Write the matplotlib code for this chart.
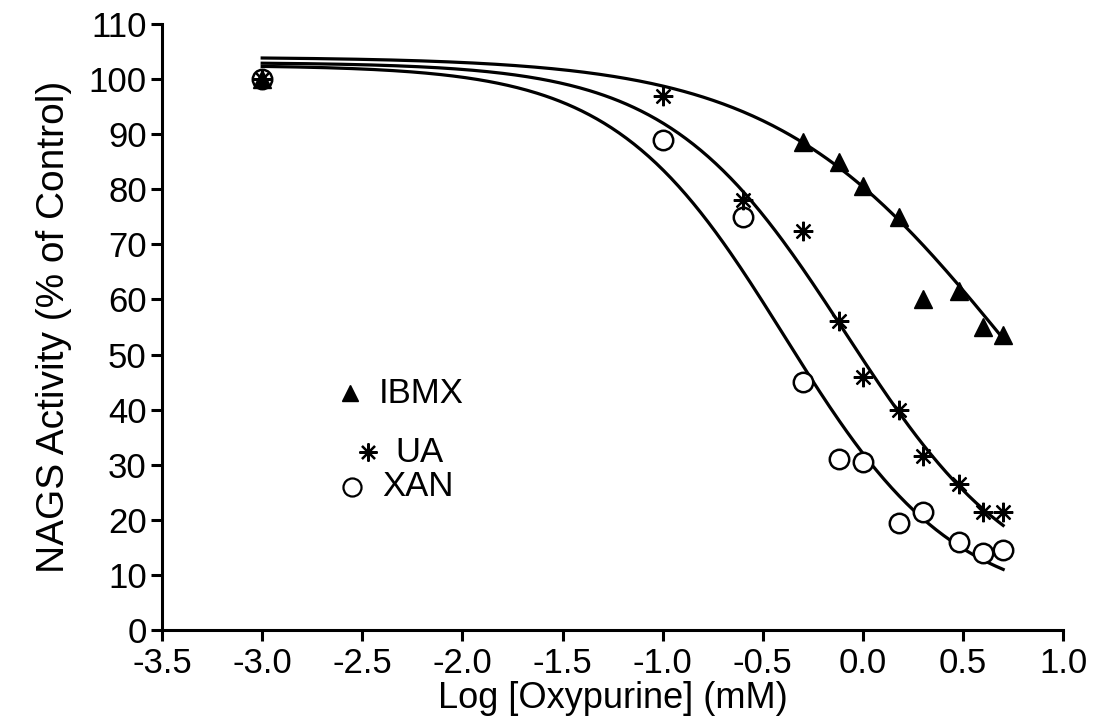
import numpy as np
import matplotlib
matplotlib.use("Agg")
import matplotlib.pyplot as plt

plt.rcParams['font.family'] = ['Liberation Sans', 'DejaVu Sans']

# measured points, log [oxypurine] (mM) vs NAGS activity (% of control)
ibmx_x = [-3.0, -0.3, -0.12, 0.0, 0.18, 0.3, 0.48, 0.6, 0.7]
ibmx_y = [100, 88.5, 85, 80.5, 75, 60, 61.5, 55, 53.5]

ua_x = [-3.0, -1.0, -0.6, -0.3, -0.12, 0.0, 0.18, 0.3, 0.48, 0.6, 0.7]
ua_y = [100, 97, 78, 72.5, 56, 46, 40, 31.5, 26.5, 21.5, 21.5]

xan_x = [-3.0, -1.0, -0.6, -0.3, -0.12, 0.0, 0.18, 0.3, 0.48, 0.6, 0.7]
xan_y = [100, 89, 75, 45, 31, 30.5, 19.5, 21.5, 16, 14, 14.5]

# fitted 4-parameter logistic curves: bottom, top, logIC50, hill slope
ibmx_fit = [0.0, 104.0, 0.72, 0.74]
ua_fit = [5.0, 103.0, -0.089, 0.987]
xan_fit = [4.0, 102.5, -0.391, 1.023]

x_ticks = [-3.5, -3.0, -2.5, -2.0, -1.5, -1.0, -0.5, 0.0, 0.5, 1.0]
y_ticks = list(range(0, 111, 10))


def logistic(x, p):
    bottom, top, c, h = p
    return bottom + (top - bottom) / (1 + 10 ** ((x - c) * h))


star = (8, 2, 0)

fig = plt.figure(figsize=(10.95, 7.25), dpi=100)
ax = fig.add_axes([0.148, 0.131, 0.823, 0.836])

xs = np.linspace(-3.0, 0.7, 300)
for p in (ibmx_fit, ua_fit, xan_fit):
    ax.plot(xs, logistic(xs, p), color='black', lw=2.3, zorder=2)

ax.plot(xan_x, xan_y, 'o', ms=14, mfc='white', mec='black', mew=1.8, ls='none', zorder=3)
ax.plot(ua_x, ua_y, marker=star, ms=14, color='black', mew=1.6, ls='none', zorder=4)
ax.plot(ibmx_x, ibmx_y, '^', ms=13, color='black', ls='none', zorder=5)

# legend drawn as text with markers
ax.plot([-2.56], [43], '^', ms=11, color='black')
ax.text(-2.42, 43, 'IBMX', fontsize=25, va='center', ha='left')
ax.plot([-2.47], [32.3], marker=star, ms=13, color='black', mew=1.6)
ax.text(-2.335, 32.3, 'UA', fontsize=25, va='center', ha='left')
ax.plot([-2.55], [26], 'o', ms=13, mfc='white', mec='black', mew=1.6)
ax.text(-2.40, 26, 'XAN', fontsize=25, va='center', ha='left')

ax.set_xlim(-3.5, 1.0)
ax.set_ylim(0, 110)
ax.set_xticks(x_ticks)
ax.set_xticklabels([f'{t:.1f}' for t in x_ticks])
ax.set_yticks(y_ticks)

for s in ('top', 'right'):
    ax.spines[s].set_visible(False)
for s in ('left', 'bottom'):
    ax.spines[s].set_linewidth(2.2)
ax.tick_params(axis='both', width=2.2, length=8, labelsize=25)
ax.tick_params(axis='x', pad=4)
ax.tick_params(axis='y', pad=3)

ax.set_xlabel('Log [Oxypurine] (mM)', fontsize=26, labelpad=1)
ax.set_ylabel('NAGS Activity (% of Control)', fontsize=28, labelpad=12)

fig.savefig('out.png', dpi=100)
